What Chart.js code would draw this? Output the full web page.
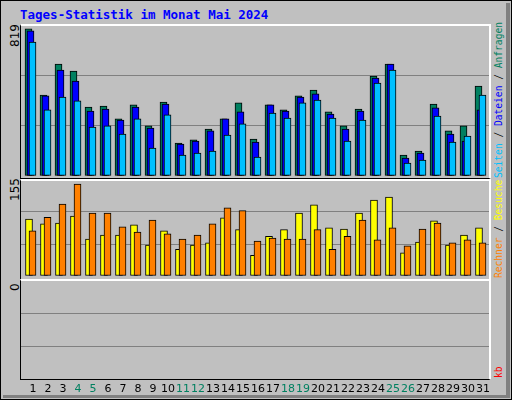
<!DOCTYPE html>
<html><head><meta charset="utf-8">
<script src="https://cdn.jsdelivr.net/npm/chart.js@4"></script>
<style>
body{margin:0;width:512px;height:400px;overflow:hidden;background:#fff;}
#outer{position:absolute;left:0;top:0;width:510px;height:398px;border:1px solid #000;background:#c0c0c0;}
#shR{position:absolute;left:506px;top:3px;width:4px;height:395px;background:#808080;}
#shB{position:absolute;left:3px;top:395px;width:507px;height:3px;background:#808080;}
.box{position:absolute;left:20px;width:471px;border-left:1px solid #000;border-bottom:1px solid #000;border-top:2px solid #fff;border-right:2px solid #fff;box-sizing:border-box;}
canvas{position:absolute;left:0;}
.t{position:absolute;white-space:nowrap;font-family:"DejaVu Sans";font-size:11px;transform-origin:0 0;transform:rotate(-90deg);}
.r{font-family:'DejaVu Sans Mono';font-size:9.6px;}
#title{position:absolute;left:20px;top:7px;font-family:"DejaVu Sans Mono";font-weight:bold;font-size:12.5px;color:#0000ff;}
</style></head><body>
<div id="outer"></div><div id="shR"></div><div id="shB"></div>
<div id="title">Tages-Statistik im Monat Mai 2024</div>
<div class="box" style="top:24px;height:155px"></div>
<div class="box" style="top:179px;height:101px"></div>
<div class="box" style="top:279px;height:101px"></div>
<div class="t" style="left:8px;top:47px;font-size:12px">819</div>
<div class="t" style="left:8px;top:201px;font-size:12px">155</div>
<div class="t" style="left:8px;top:291px;font-size:12px">0</div>
<div class="t r" style="left:493px;top:178px"><span style="color:#00c0ff">Seiten</span> / <span style="color:#0000ff">Dateien</span> / <span style="color:#008060">Anfragen</span></div>
<div class="t r" style="left:493px;top:278px"><span style="color:#ff8000">Rechner</span> / <span style="color:#ffff00">Besuche</span></div>
<div class="t r" style="left:493px;top:378px;color:#ff0000">kb</div>
<canvas id="c1" width="512" height="151" style="top:25px"></canvas>
<canvas id="c2" width="512" height="96" style="top:180px"></canvas>
<canvas id="c3" width="512" height="120" style="top:280px"></canvas>
<script>
const days=[1,2,3,4,5,6,7,8,9,10,11,12,13,14,15,16,17,18,19,20,21,22,23,24,25,26,27,28,29,30,31];
const weekend=[4,5,11,12,18,19,25,26];
const hits=[819,451,624,585,384,390,318,396,279,412,184,201,262,318,407,206,396,368,446,479,357,279,373,557,624,117,139,401,251,279,501];
const files=[808,446,590,529,362,373,312,384,267,401,178,195,251,318,357,189,396,362,440,457,345,262,362,546,624,100,128,379,234,195,368];
const pages=[746,368,440,418,273,279,234,318,156,340,117,128,139,228,290,106,351,323,407,423,323,195,312,518,590,72,89,334,189,223,451];
const visits=[96,88,89,101,62,69,69,86,52,76,45,52,56,98,78,35,67,78,106,120,81,79,106,128,133,39,57,93,52,69,81];
const sites=[76,99,121,155,106,106,83,74,94,71,62,69,88,115,110,59,64,62,62,78,45,67,94,61,81,51,79,89,56,61,56];
const kbytes=[];
const pts=(arr,off)=>arr.map((v,i)=>({x:days[i]+off,y:v}));
const ds=(arr,off,col,ord)=>({data:pts(arr,off),backgroundColor:col,borderColor:'#000',borderWidth:1,borderSkipped:false,barThickness:7,grouped:false,order:ord});
function opts(max,extra){return {responsive:false,animation:false,layout:{padding:{left:21,right:23,top:0,bottom:extra||0}},
 plugins:{legend:{display:false},tooltip:{enabled:false}},
 scales:{x:{type:'linear',offset:false,min:0.2,max:31.4,display:false},
 y:{min:0,max:max,afterFit:s=>{s.width=0;},ticks:{display:false,stepSize:max/3},border:{display:false},
   grid:{drawTicks:false,color:c=>(c.index===1||c.index===2)?'#808080':'rgba(0,0,0,0)'}}}};}
new Chart(document.getElementById('c1'),{type:'bar',data:{datasets:[ds(pages,-0.033,'#00c0ff',1),ds(files,-0.167,'#0000ff',2),ds(hits,-0.3,'#008060',3)]},options:opts(841)});
new Chart(document.getElementById('c2'),{type:'bar',data:{datasets:[ds(sites,-0.033,'#ff8000',1),ds(visits,-0.267,'#ffff00',2)]},options:opts(161.7)});
const lbl={id:'lbl',afterDraw(ch){const c=ch.ctx,xs=ch.scales.x;c.save();c.font='11px "DejaVu Sans"';c.textAlign='center';c.textBaseline='middle';
 days.forEach(d=>{c.fillStyle=weekend.includes(d)?'#008060':'#000';c.fillText(String(d),xs.getPixelForValue(d),109);});c.restore();}};
new Chart(document.getElementById('c3'),{type:'bar',data:{datasets:[ds(kbytes,0,'#ff0000',1)]},options:opts(3,21),plugins:[lbl]});
</script></body></html>
